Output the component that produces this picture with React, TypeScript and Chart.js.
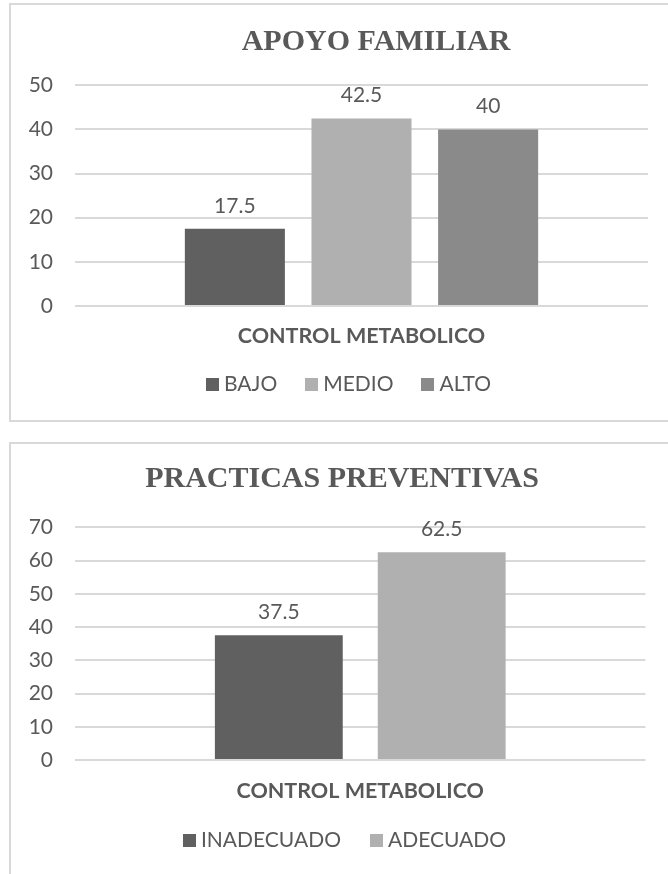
import React, { useEffect, useRef } from "react";
import { Chart, registerables } from "chart.js";

Chart.register(...registerables);

// ---- Data ----
const apoyoTitle = "APOYO FAMILIAR";
const apoyoCategories = ["CONTROL METABOLICO"];
const apoyoSeries = ["BAJO", "MEDIO", "ALTO"];
const apoyoValues = [17.5, 42.5, 40];
const apoyoTicks = [0, 10, 20, 30, 40, 50];

const practicasTitle = "PRACTICAS PREVENTIVAS";
const practicasCategories = ["CONTROL METABOLICO"];
const practicasSeries = ["INADECUADO", "ADECUADO"];
const practicasValues = [37.5, 62.5];
const practicasTicks = [0, 10, 20, 30, 40, 50, 60, 70];

// ---- Styling ----
const TEXT = "#595959";
const GRID = "#d9d9d9";
const SANS = "Lato, 'Liberation Sans', sans-serif";
const SERIF = "'Liberation Serif', 'Times New Roman', serif";
const apoyoColors = ["#606060", "#b0b0b0", "#8a8a8a"];
const practicasColors = ["#606060", "#b0b0b0"];

// Writes each bar's value just above it.
const valueLabels = {
  id: "valueLabels",
  afterDatasetsDraw(chart: any) {
    const ctx = chart.ctx;
    ctx.save();
    ctx.font = `21px ${SANS}`;
    ctx.fillStyle = TEXT;
    ctx.textAlign = "center";
    ctx.textBaseline = "middle";
    chart.data.datasets.forEach((ds: any, i: number) => {
      chart.getDatasetMeta(i).data.forEach((bar: any, j: number) => {
        ctx.fillText(String(ds.data[j]), bar.x, bar.y - 23);
      });
    });
    ctx.restore();
  },
};

// Chart heading, placed at a given centre point.
const heading = {
  id: "heading",
  afterDraw(chart: any, _args: any, opts: any) {
    const ctx = chart.ctx;
    ctx.save();
    ctx.font = `bold 30px ${SERIF}`;
    ctx.fillStyle = TEXT;
    ctx.textAlign = "center";
    ctx.textBaseline = "middle";
    ctx.fillText(opts.text, opts.x, opts.y);
    ctx.restore();
  },
};

// Series key: square swatch followed by the series name, in one row.
const seriesKey = {
  id: "seriesKey",
  afterDraw(chart: any, _args: any, opts: any) {
    const ctx = chart.ctx;
    const box = 13;
    const gapText = 5;
    ctx.save();
    ctx.font = `21px ${SANS}`;
    ctx.textAlign = "left";
    ctx.textBaseline = "middle";
    const items = chart.data.datasets.map((ds: any) => ({
      text: ds.label as string,
      color: ds.backgroundColor as string,
    }));
    const widths = items.map((it: any) => box + gapText + ctx.measureText(it.text).width);
    const total =
      widths.reduce((a: number, b: number) => a + b, 0) + opts.gap * (items.length - 1);
    let x = opts.x - total / 2;
    items.forEach((it: any, i: number) => {
      ctx.fillStyle = it.color;
      ctx.fillRect(Math.round(x), Math.round(opts.y - box / 2), box, box);
      ctx.fillStyle = TEXT;
      ctx.fillText(it.text, x + box + gapText, opts.y);
      x += widths[i] + opts.gap;
    });
    ctx.restore();
  },
};

type PanelProps = {
  title: string;
  categories: string[];
  series: string[];
  values: number[];
  colors: string[];
  ticks: number[];
  width: number;
  height: number;
  titleX: number;
  titleY: number;
  plotTop: number;
  plotBottom: number;
  axisHeight: number;
  tickPad: number;
  keyX: number;
  keyY: number;
  keyGap: number;
  padRight: number;
  catPct: number;
  barPct: number;
};

function BarPanel(p: PanelProps) {
  const ref = useRef<HTMLCanvasElement | null>(null);

  useEffect(() => {
    if (!ref.current) return;
    const chart = new Chart(ref.current, {
      type: "bar",
      data: {
        labels: p.categories,
        datasets: p.series.map((name, i) => ({
          label: name,
          data: [p.values[i]],
          backgroundColor: p.colors[i],
          borderWidth: 0,
          categoryPercentage: p.catPct,
          barPercentage: p.barPct,
        })),
      },
      options: {
        animation: false,
        responsive: true,
        maintainAspectRatio: false,
        layout: {
          padding: {
            left: 0,
            right: p.padRight,
            top: p.plotTop,
            bottom: p.height - p.plotBottom - p.axisHeight,
          },
        },
        plugins: {
          title: { display: false },
          legend: { display: false },
          tooltip: { enabled: false },
          heading: { text: p.title, x: p.titleX, y: p.titleY },
          seriesKey: { x: p.keyX, y: p.keyY, gap: p.keyGap },
        },
        scales: {
          x: {
            grid: { display: false, drawTicks: false },
            border: { display: false },
            ticks: {
              color: TEXT,
              font: { family: SANS, size: 21.5, weight: "bold" },
              padding: p.tickPad,
            },
            afterFit: (s: any) => {
              s.height = p.axisHeight;
            },
          },
          y: {
            min: p.ticks[0],
            max: p.ticks[p.ticks.length - 1],
            afterBuildTicks: (s: any) => {
              s.ticks = p.ticks.map((v) => ({ value: v }));
            },
            grid: { color: GRID, lineWidth: 2, drawTicks: false },
            border: { display: false },
            ticks: {
              color: TEXT,
              font: { family: SANS, size: 21 },
              padding: 22,
            },
            afterFit: (s: any) => {
              s.width = 64;
            },
          },
        },
      },
      plugins: [valueLabels, heading, seriesKey],
    } as any);
    return () => chart.destroy();
  }, []);

  return (
    <div style={{ position: "relative", width: p.width, height: p.height }}>
      <canvas ref={ref} />
    </div>
  );
}

export default function App() {
  return (
    <div
      style={{
        position: "absolute",
        left: 0,
        top: 0,
        width: 668,
        height: 874,
        overflow: "hidden",
        background: "#ffffff",
      }}
    >
      <div
        style={{
          position: "absolute",
          left: 9,
          top: 3,
          width: 700,
          height: 415,
          border: `2px solid ${GRID}`,
        }}
      />
      <div
        style={{
          position: "absolute",
          left: 9,
          top: 442,
          width: 700,
          height: 460,
          border: `2px solid ${GRID}`,
        }}
      />
      <div style={{ position: "absolute", left: 11, top: 6 }}>
        <BarPanel
          title={apoyoTitle}
          categories={apoyoCategories}
          series={apoyoSeries}
          values={apoyoValues}
          colors={apoyoColors}
          ticks={apoyoTicks}
          width={657}
          height={414}
          titleX={365}
          titleY={36}
          plotTop={79.3}
          plotBottom={300}
          axisHeight={40}
          tickPad={17}
          keyX={337.5}
          keyY={378}
          keyGap={28}
          padRight={20}
          catPct={0.663}
          barPct={0.79}
        />
      </div>
      <div style={{ position: "absolute", left: 11, top: 446 }}>
        <BarPanel
          title={practicasTitle}
          categories={practicasCategories}
          series={practicasSeries}
          values={practicasValues}
          colors={practicasColors}
          ticks={practicasTicks}
          width={657}
          height={428}
          titleX={331}
          titleY={33}
          plotTop={81.3}
          plotBottom={314}
          axisHeight={44.7}
          tickPad={18}
          keyX={333.5}
          keyY={394.7}
          keyGap={29}
          padRight={22.5}
          catPct={0.571}
          barPct={0.785}
        />
      </div>
    </div>
  );
}
